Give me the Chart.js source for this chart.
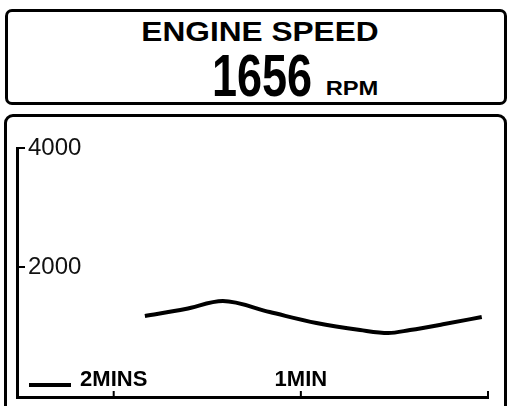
<!DOCTYPE html>
<html>
<head>
<meta charset="utf-8">
<script src="https://cdn.jsdelivr.net/npm/chart.js@4.4.1/dist/chart.umd.min.js"></script>
<style>
  html, body { margin: 0; padding: 0; background: #fff; width: 507px; height: 406px; overflow: hidden; }
  .panel { position: absolute; box-sizing: border-box; border: 3px solid #000; background: #fff; }
  #header { left: 5px; top: 9px; width: 502px; height: 96px; border-radius: 7px; }
  #graphPanel { left: 4px; top: 114px; width: 503px; height: 310px; border-radius: 9px; }
  .txt { position: absolute; white-space: nowrap; color: #000; font-family: "Liberation Sans", Arial, sans-serif; font-weight: bold; }
  #title { left: 260px; top: 17.7px; font-size: 28px; line-height: 28px; transform: translateX(-50%) scaleX(1.13); }
  #value { left: 262px; top: 46px; font-size: 60px; line-height: 60px; transform: translateX(-50%) scaleX(0.75); }
  #unit { left: 351.5px; top: 77px; font-size: 21px; line-height: 21px; transform: translateX(-50%) scaleX(1.13); }
  #chart { position: absolute; left: 0; top: 0; }
</style>
</head>
<body>
<div class="panel" id="header"></div>
<div class="panel" id="graphPanel"></div>
<div class="txt" id="title"></div>
<div class="txt" id="value"></div>
<div class="txt" id="unit"></div>
<canvas id="chart" width="507" height="406"></canvas>
<script>
const titleText = "ENGINE SPEED";
const currentSpeed = 1656;
const speedUnit = "RPM";

// seconds before now, engine rpm
const seconds = [-110, -97, -85, -70, -55, -41, -32, -25, -14, -2];
const rpm = [1176, 1294, 1428, 1243, 1058, 941, 890, 941, 1041, 1159];

const xTickValues = [-120, -60, 0];
const xTickLabels = ["2MINS", "1MIN", ""];
const yTickValues = [2000, 4000];

document.getElementById("title").textContent = titleText;
document.getElementById("value").textContent = currentSpeed;
document.getElementById("unit").textContent = speedUnit;

// inward tick marks + the little line sample at the bottom left
const axisMarks = {
  id: "axisMarks",
  afterDraw(chart) {
    const { ctx, chartArea, scales } = chart;
    ctx.save();
    ctx.strokeStyle = "#000";
    ctx.lineWidth = 2;
    ctx.beginPath();
    scales.y.ticks.forEach(t => {
      const y = scales.y.getPixelForValue(t.value);
      ctx.moveTo(chartArea.left, y);
      ctx.lineTo(chartArea.left + 8, y);
    });
    scales.x.ticks.forEach(t => {
      const x = scales.x.getPixelForValue(t.value);
      ctx.moveTo(x, chartArea.bottom);
      ctx.lineTo(x, chartArea.bottom - 6);
    });
    ctx.stroke();
    ctx.lineWidth = 4;
    ctx.beginPath();
    ctx.moveTo(chartArea.left + 12, chartArea.bottom - 12);
    ctx.lineTo(chartArea.left + 54, chartArea.bottom - 12);
    ctx.stroke();
    ctx.restore();
  }
};

const chart = new Chart(document.getElementById("chart"), {
  type: "line",
  data: {
    datasets: [
      {
        data: seconds.map((s, i) => ({ x: s, y: rpm[i] })),
        borderColor: "#000",
        borderWidth: 4,
        pointRadius: 0,
        cubicInterpolationMode: "monotone",
        fill: false
      }
    ]
  },
  options: {
    responsive: false,
    devicePixelRatio: 1,
    animation: false,
    layout: { padding: { left: 17, right: 19, top: 148, bottom: 9 } },
    plugins: { legend: { display: false }, tooltip: { enabled: false } },
    scales: {
      x: {
        type: "linear",
        min: -151,
        max: 0,
        afterBuildTicks: scale => {
          scale.ticks = xTickValues.map(v => ({ value: v }));
        },
        // labels sit inside the plot, so the axis takes no room
        afterFit: scale => {
          scale.height = 0;
          scale.paddingLeft = 0;
          scale.paddingRight = 0;
        },
        grid: { display: true, drawOnChartArea: false, drawTicks: false },
        border: { display: true, color: "#000", width: 3 },
        ticks: {
          mirror: true,
          padding: 4,
          autoSkip: false,
          maxRotation: 0,
          color: "#000",
          font: { family: "'Liberation Sans', Arial, sans-serif", size: 22, weight: "bold" },
          callback: value => xTickLabels[xTickValues.indexOf(value)]
        }
      },
      y: {
        min: -185,
        max: 4000,
        afterBuildTicks: scale => {
          scale.ticks = yTickValues.map(v => ({ value: v }));
        },
        afterFit: scale => {
          scale.width = 0;
          scale.paddingTop = 0;
          scale.paddingBottom = 0;
        },
        grid: { display: true, drawOnChartArea: false, drawTicks: false },
        border: { display: true, color: "#000", width: 3 },
        ticks: {
          mirror: true,
          padding: 11,
          color: "#111",
          font: { family: "'Liberation Sans', Arial, sans-serif", size: 24 },
          callback: value => String(value)
        }
      }
    }
  },
  plugins: [axisMarks]
});
</script>
</body>
</html>
